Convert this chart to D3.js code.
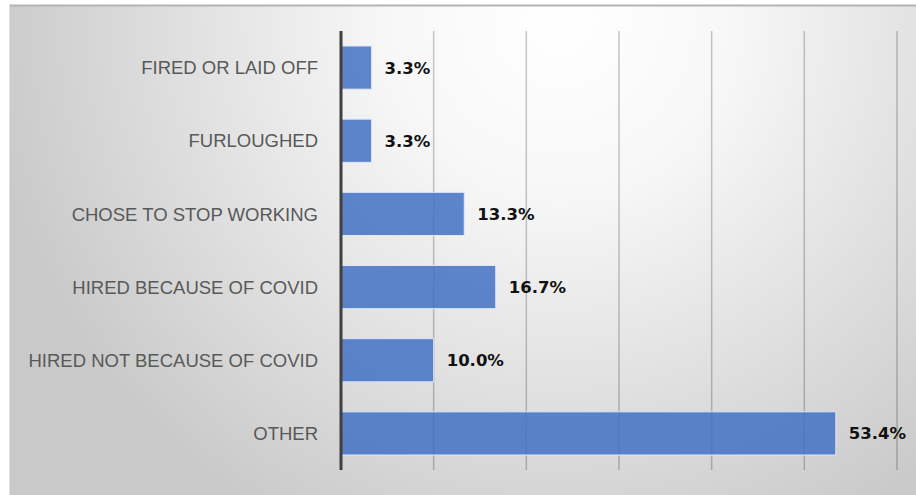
<!DOCTYPE html>
<html>
<head>
<meta charset="utf-8">
<script src="https://d3js.org/d3.v7.min.js"></script>
<style>
  body { margin: 0; background: #fff; }
  svg { display: block; }
</style>
</head>
<body>
<svg id="chart" width="916" height="495"></svg>
<script>
var categories = ["FIRED OR LAID OFF", "FURLOUGHED", "CHOSE TO STOP WORKING",
                  "HIRED BECAUSE OF COVID", "HIRED NOT BECAUSE OF COVID", "OTHER"];
var values = [3.3, 3.3, 13.3, 16.7, 10.0, 53.4];
var ticks = [0, 10, 20, 30, 40, 50, 60];

var svg = d3.select("#chart");

// background panel with radial gradient like the Excel style
var defs = svg.append("defs");
var grad = defs.append("radialGradient")
  .attr("id", "bg")
  .attr("gradientUnits", "userSpaceOnUse")
  .attr("cx", 560).attr("cy", 20).attr("r", 580);
grad.append("stop").attr("offset", "0%").attr("stop-color", "#ffffff");
grad.append("stop").attr("offset", "30%").attr("stop-color", "#f7f7f7");
grad.append("stop").attr("offset", "100%").attr("stop-color", "#c9c9c9");

svg.append("rect")
  .attr("x", 9).attr("y", 6).attr("width", 907).attr("height", 489)
  .attr("fill", "url(#bg)");
svg.append("line")
  .attr("x1", 9).attr("x2", 916).attr("y1", 5.5).attr("y2", 5.5)
  .attr("stroke", "#b4b4b4").attr("stroke-width", 2);
svg.append("line")
  .attr("x1", 9.5).attr("x2", 9.5).attr("y1", 5).attr("y2", 495)
  .attr("stroke", "#e0e0e0").attr("stroke-width", 1);

var x = d3.scaleLinear().domain([0, 60]).range([341, 897]);
var y = d3.scaleBand().domain(categories).range([31, 470]).paddingInner(0.41).paddingOuter(0.205);

// gridlines
svg.selectAll(".grid")
  .data(ticks.slice(1))
  .enter().append("line")
  .attr("class", "grid")
  .attr("x1", function(d) { return x(d); })
  .attr("x2", function(d) { return x(d); })
  .attr("y1", 31).attr("y2", 470)
  .attr("stroke", "#000")
  .attr("stroke-opacity", 0.22)
  .attr("stroke-width", 1.5);

// bars
svg.selectAll(".bar")
  .data(values)
  .enter().append("rect")
  .attr("class", "bar")
  .attr("x", x(0))
  .attr("y", function(d, i) { return y(categories[i]); })
  .attr("width", function(d) { return x(d) - x(0); })
  .attr("height", y.bandwidth())
  .attr("fill", "#4472c4")
  .attr("fill-opacity", 0.86)
  .attr("stroke", "#dfe8f7")
  .attr("stroke-width", 1);

// axis line
svg.append("line")
  .attr("x1", x(0)).attr("x2", x(0))
  .attr("y1", 31).attr("y2", 470)
  .attr("stroke", "#404040").attr("stroke-width", 3);

// category labels
svg.selectAll(".cat")
  .data(categories)
  .enter().append("text")
  .attr("class", "cat")
  .attr("x", 318)
  .attr("y", function(d) { return y(d) + y.bandwidth() / 2; })
  .attr("dy", "0.36em")
  .attr("text-anchor", "end")
  .attr("fill", "#595959")
  .style("font-family", "'Liberation Sans', Arial, sans-serif")
  .style("font-size", "18.5px")
  .text(function(d) { return d; });

// value labels
svg.selectAll(".val")
  .data(values)
  .enter().append("text")
  .attr("class", "val")
  .attr("x", function(d) { return x(d) + 13; })
  .attr("y", function(d, i) { return y(categories[i]) + y.bandwidth() / 2; })
  .attr("dy", "0.36em")
  .attr("fill", "#111")
  .style("font-family", "'DejaVu Sans', Verdana, sans-serif")
  .style("font-weight", "bold")
  .style("font-size", "16.5px")
  .text(function(d) { return d.toFixed(1) + "%"; });
</script>
</body>
</html>
